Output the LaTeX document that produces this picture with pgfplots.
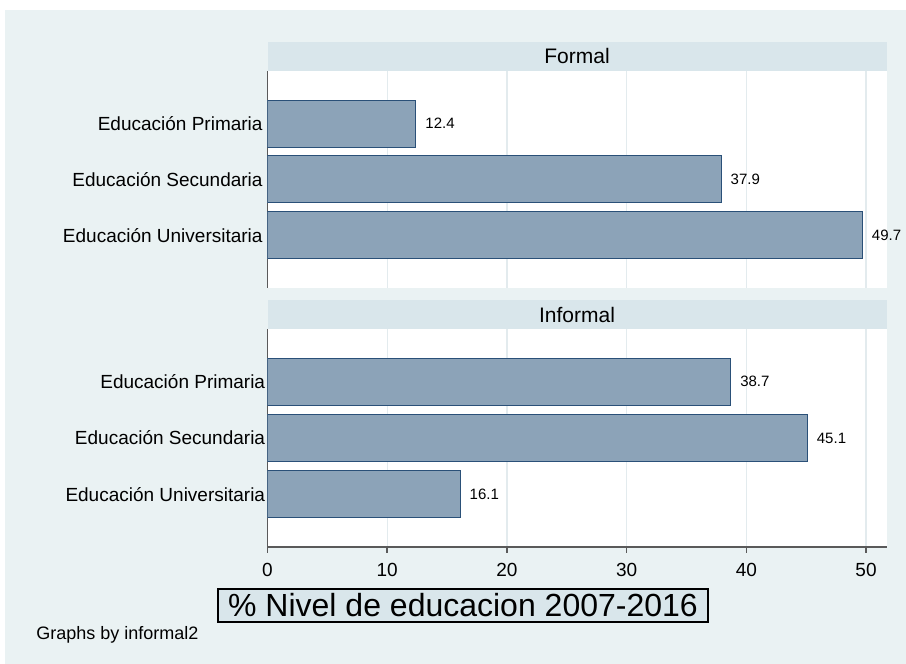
\documentclass[border=0pt]{standalone}
\usepackage{pgfplots}
\pgfplotsset{compat=1.18}
\usepackage{fontspec}
\setmainfont{Liberation Sans}
\definecolor{bg}{HTML}{EAF2F3}
\definecolor{hdr}{HTML}{D9E6EB}
\definecolor{barf}{HTML}{8CA3B8}
\definecolor{bard}{HTML}{2A5078}
\definecolor{gridc}{HTML}{E3EBEE}
\definecolor{axc}{HTML}{5A5A5A}
\begin{document}
\begin{tikzpicture}[x=0.5pt,y=0.5pt]
\fill[white] (0,0) rectangle (906,664);
\fill[bg] (5,0) rectangle (906,654);
\fill[hdr] (267.5,593) rectangle (887,622);
\node[font=\fontsize{10.5}{12}\selectfont] at (577,607.5) {Formal};
\fill[hdr] (267.5,335) rectangle (887,364);
\node[font=\fontsize{10.5}{12}\selectfont] at (577,349.5) {Informal};
\pgfplotsset{mystyle/.style={
  xbar, scale only axis, width=309.75pt, anchor=south west,
  xmin=0, xmax=51.75, ymin=0.06, ymax=3.94,
  bar width=0.84,
  ytick={1,2,3},
  yticklabels={Educación Universitaria, Educación Secundaria, Educación Primaria},
  axis background/.style={fill=white},
  xtick={0,10,...,50}, xmajorgrids,
  major grid style={draw=gridc, line width=0.6pt},
  axis y line*=left, axis x line*=bottom,
  axis line style={draw=axc, line width=0.8pt, -},
  ytick style={draw=none},
  tick align=outside,
  yticklabel style={font=\fontsize{9.5}{11}\selectfont, inner sep=0pt, xshift=2pt},
  /pgf/number format/assume math mode=true,
  point meta=x,
  nodes near coords={\pgfmathprintnumber[fixed,precision=1,fixed zerofill]{\pgfplotspointmeta}},
  every node near coord/.append style={font=\fontsize{7.5}{9}\selectfont, anchor=west, inner sep=0pt, xshift=4.5pt, text=black},
}}
\begin{axis}[mystyle, at={(133.75pt,188pt)}, height=108.5pt,
  x axis line style={draw=none}, xticklabels={}, xtick style={draw=none}]
\addplot[fill=barf, draw=bard, line width=0.5pt] coordinates {(49.7,1) (37.9,2) (12.4,3)};
\end{axis}
\begin{axis}[mystyle, at={(133.75pt,58.5pt)}, height=109pt,
  xtick style={draw=axc, line width=0.8pt}, major tick length=3pt,
  xticklabel style={font=\fontsize{9.5}{11}\selectfont, inner sep=0pt, yshift=-5pt}]
\addplot[fill=barf, draw=bard, line width=0.5pt] coordinates {(16.1,1) (45.1,2) (38.7,3)};
\end{axis}
\node[draw=black, line width=0.6pt, fill=hdr, minimum width=245pt, minimum height=16.5pt, inner sep=0pt, font=\fontsize{16}{19}\selectfont] at (463,58.5) {\% Nivel de educacion 2007-2016};
\node[anchor=west, inner sep=0pt, font=\fontsize{9}{11}\selectfont] at (36,29) {Graphs by informal2};
\end{tikzpicture}
\end{document}
